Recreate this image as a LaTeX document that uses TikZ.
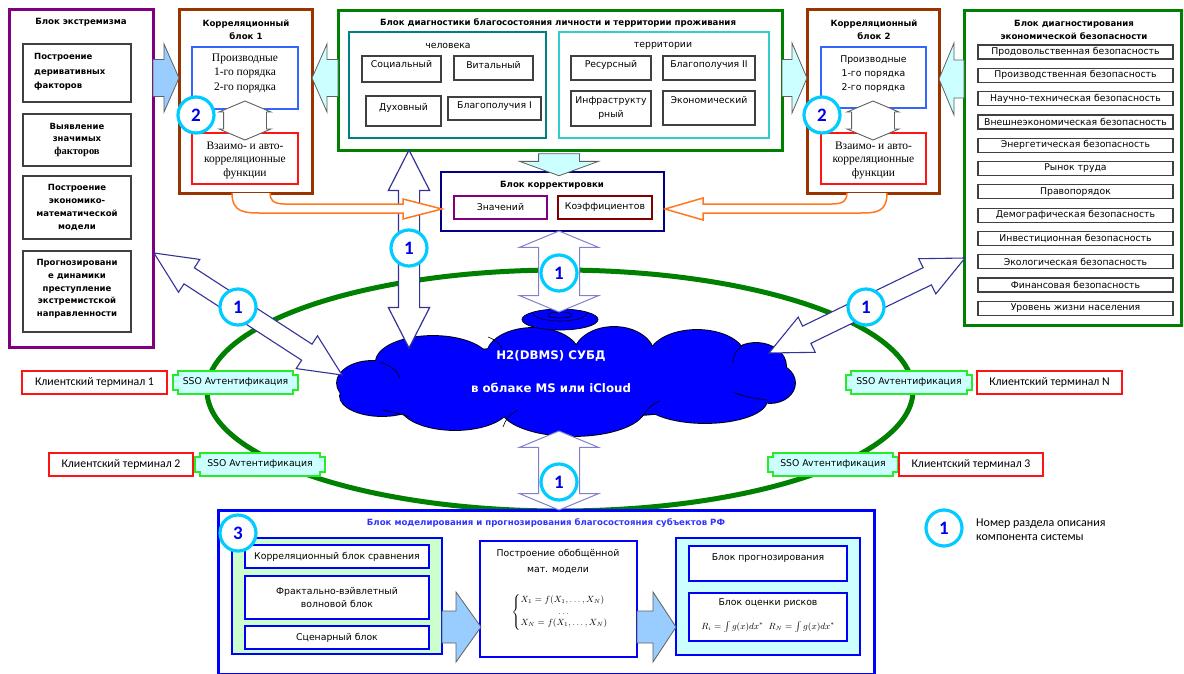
\documentclass[tikz,border=0pt]{standalone}
\usepackage{fontspec}
\setmainfont{DejaVu Sans}
\newfontfamily\serfam{Liberation Serif}
\newfontfamily\calfam{Carlito}
\usetikzlibrary{calc,shapes.arrows,shapes.geometric}

\definecolor{cPurple}{RGB}{128,0,128}
\definecolor{cBrown}{RGB}{153,51,0}
\definecolor{cBlueBox}{RGB}{51,102,255}
\definecolor{cRed}{RGB}{255,20,20}
\definecolor{cGreen}{RGB}{0,128,0}
\definecolor{cTeal}{RGB}{0,128,128}
\definecolor{cAqua}{RGB}{51,204,204}
\definecolor{cNavy}{RGB}{0,0,128}
\definecolor{cMaroon}{RGB}{128,0,0}
\definecolor{cOrange}{RGB}{255,120,30}
\definecolor{cArrNavy}{RGB}{51,51,153}
\definecolor{cArrLav}{RGB}{128,128,204}
\definecolor{cSky}{RGB}{153,204,255}
\definecolor{cIce}{RGB}{204,255,255}
\definecolor{cCloud}{RGB}{0,0,255}
\definecolor{cRing}{RGB}{0,204,255}
\definecolor{cDigit}{RGB}{0,0,230}
\definecolor{cSSO}{RGB}{40,235,40}
\definecolor{cModel}{RGB}{0,0,255}
\definecolor{cModelTxt}{RGB}{51,51,255}
\definecolor{cMint}{RGB}{204,255,204}
\definecolor{cFrame}{RGB}{64,64,64}
\definecolor{cOutline}{RGB}{96,96,96}

% block arrow (single or double) stretched between two named points
\newcommand\blockarrow[3][]{%
  \path let \p1=($(#3)-(#2)$), \n1={atan2(\y1,\x1)}, \n2={veclen(\x1,\y1)} in
    node[inner xsep=0pt, outer sep=0pt, #1, rotate=\n1, minimum height=\n2] at ($(#2)!0.5!(#3)$) {};}

% short horizontal block arrow with a tall flat head: [style]{from}{to}{dir +1/-1}{shaft half}{head half}{head length}
\newcommand\flatarrow[7][]{%
  \draw[#1] ($(#2)+(0,-#5)$) -- ($(#3)+(-#4*#7,-#5)$) -- ($(#3)+(-#4*#7,-#6)$) -- (#3)
    -- ($(#3)+(-#4*#7,#6)$) -- ($(#3)+(-#4*#7,#5)$) -- ($(#2)+(0,#5)$) -- cycle;}

% rectangle node given by its corners: [style]{name}{x1}{y1}{x2}{y2}
\newcommand\boxnode[6][]{%
  \node[#1, inner sep=0pt, minimum width={#5-#3}, minimum height={#6-#4}] (#2) at ({(#3+#5)/2},{(#4+#6)/2}) {};}

% frame with stepped corners for the SSO plates
\newcommand\notchframe[1]{%
  \draw[cSSO, line width=1.6pt, fill=cIce]
    ($(#1.north west)+(5,0)$) -- ($(#1.north east)+(-5,0)$) -- ($(#1.north east)+(-5,4)$)
    -- ($(#1.north east)+(0,4)$) -- ($(#1.south east)+(0,-4)$) -- ($(#1.south east)+(-5,-4)$)
    -- ($(#1.south east)+(-5,0)$) -- ($(#1.south west)+(5,0)$) -- ($(#1.south west)+(5,-4)$)
    -- ($(#1.south west)+(0,-4)$) -- ($(#1.north west)+(0,4)$) -- ($(#1.north west)+(5,4)$) -- cycle;}

% puffs of the database cloud: centre x, centre y, x radius, y radius
\newcommand\cloudpuffs{(372,383)/35/22, (433,362)/57/26, (533,355)/46/27, (614,355)/40/28,
  (697,357)/48/27, (756,366)/30/23, (770,383)/25/20, (705,400)/62/23, (573,408)/72/28,
  (455,405)/55/25, (382,396)/42/20, (566,382)/190/36}

\begin{document}
\begin{tikzpicture}[x=1pt,y=-1pt,
  tx/.style={font=\fontsize{9.3}{12}\selectfont, inner sep=0pt, align=center},
  tbold/.style={font=\bfseries\fontsize{8.6}{13.5}\selectfont, inner sep=0pt, align=center},
  tser/.style={font=\serfam\fontsize{11.5}{14.5}\selectfont, inner sep=0pt, align=center},
  tcal/.style={font=\calfam\fontsize{11.8}{13}\selectfont, inner sep=0pt, align=center},
  subbox/.style={draw=cFrame, line width=1.2pt},
  badge/.style={circle, draw=cRing, line width=3.2pt, fill=white, minimum size=36pt,
    inner sep=0pt, text=cDigit, font=\calfam\bfseries\fontsize{19}{19}\selectfont},
  termbox/.style={draw=cRed, line width=1.5pt, fill=white},
  itembox/.style={draw=cFrame, line width=1.2pt, minimum width=195pt, minimum height=14pt,
    inner sep=0pt, font=\fontsize{9.3}{11}\selectfont},
  skyfill/.style={draw=cOutline, line width=0.8pt, fill=cSky, line join=miter},
  icefill/.style={draw=cOutline, line width=0.8pt, fill=cIce, line join=miter},
  icearrow/.style={single arrow, draw=cOutline, line width=0.8pt, fill=cIce},
  navydbl/.style={double arrow, draw=cArrNavy, line width=1.2pt, fill=white,
    inner ysep=10pt, double arrow head extend=10pt, double arrow tip angle=54},
  diagdbl/.style={double arrow, draw=cArrNavy, line width=1.1pt, fill=white,
    inner ysep=9pt, double arrow head extend=10pt, double arrow tip angle=50},
  lavdbl/.style={double arrow, draw=cArrLav, line width=1pt, fill=white,
    inner ysep=20pt, double arrow head extend=19pt, double arrow tip angle=135},
  smalldbl/.style={double arrow, draw=cOutline, line width=0.9pt, fill=white,
    inner ysep=21pt, double arrow head extend=4.5pt, double arrow tip angle=134},
  orangearrow/.style={draw=cOrange, line width=1.5pt, fill=white},
]
\useasboundingbox (0,0) rectangle (1184,673);
\fill[white] (0,0) rectangle (1184,673);

% ---------- ring of client access ----------
\draw[cGreen, line width=5pt] (560,390.5) ellipse [x radius=353pt, y radius=120.5pt];

% ---------- cloud database ----------
\foreach \c/\rx/\ry in \cloudpuffs
  \draw[black, line width=1.8pt] \c ellipse [x radius=\rx pt, y radius=\ry pt];
\foreach \c/\rx/\ry in \cloudpuffs
  \fill[cCloud] \c ellipse [x radius=\rx pt, y radius=\ry pt];
\draw[black, line width=0.6pt] (380,362) .. controls (392,366) and (398,372) .. (400,378);
\draw[black, line width=0.6pt] (488,337) .. controls (496,340) and (500,344) .. (502,349);
\draw[black, line width=0.6pt] (743,345) .. controls (736,350) and (733,356) .. (733,362);
\draw[black, line width=0.6pt] (767,400) .. controls (752,398) and (742,396) .. (733,392);
\draw[black, line width=0.6pt] (503,427) .. controls (505,420) and (510,414) .. (518,410);
\draw[black, line width=0.6pt] (642,417) .. controls (646,410) and (652,404) .. (660,401);
\draw[black, line width=0.6pt] (410,417) .. controls (400,414) and (390,411) .. (382,410);
\node[draw=black, fill=cCloud, line width=0.7pt, ellipse, inner sep=0pt, minimum width=76pt, minimum height=21pt] (dbtop) at (560,319.5) {};
\draw[black, line width=0.6pt] (533,313) arc[start angle=180, end angle=360, x radius=27pt, y radius=8pt];
\draw[black, line width=0.6pt] (560,315) ellipse [x radius=12pt, y radius=3pt];
\coordinate (db) at (566,381);
\node[font=\bfseries\fontsize{11.8}{14}\selectfont, text=white, inner sep=0pt] (dbt1) at (551,356) {H2(DBMS) СУБД};
\node[font=\bfseries\fontsize{11.8}{14}\selectfont, text=white, inner sep=0pt] (dbt2) at (551,388) {в облаке MS или iCloud};

% ---------- extremism block ----------
\boxnode[draw=cPurple, line width=3pt]{extr}{9}{9}{153}{347}
\node[tbold] (extrt) at (81,22) {Блок экстремизма};
\boxnode[subbox]{ex1}{23}{44}{131}{102}
\boxnode[subbox]{ex2}{23}{114}{131}{166}
\boxnode[subbox]{ex3}{23}{176}{131}{239}
\boxnode[subbox]{ex4}{23}{251}{131}{332}
\node[tbold, anchor=west, align=left, font=\bfseries\fontsize{8.5}{14.5}\selectfont] (ex1t) at (34,72) {Построение\\деривативных\\факторов};
\node[tbold, font=\bfseries\fontsize{8.5}{12.5}\selectfont] (ex2t) at (77,140) {Выявление\\значимых\\{\serfam\bfseries\fontsize{10.5}{12.5}\selectfont факторов}};
\node[tbold, font=\bfseries\fontsize{8.5}{13}\selectfont] (ex3t) at (77,207) {Построение\\экономико-\\математической\\модели};
\node[tbold, font=\bfseries\fontsize{8.5}{12.7}\selectfont] (ex4t) at (77,289) {Прогнозировани\\е динамики\\преступление\\экстремистской\\направленности};

% ---------- correlation block 1 ----------
\boxnode[draw=cBrown, line width=3pt]{cb1}{179}{9}{312}{193}
\node[tbold] (cb1t) at (246,30) {Корреляционный\\блок 1};
\boxnode[draw=cBlueBox, line width=1.6pt]{cb1d}{192}{47}{298}{109}
\node[tser] (cb1dt) at (245,73) {Производные\\1-го порядка\\2-го порядка};
\boxnode[draw=cRed, line width=1.6pt]{cb1r}{192}{133}{298}{184}
\node[tser, font=\serfam\fontsize{11.5}{13.5}\selectfont] (cb1rt) at (245,160) {Взаимо- и авто-\\корреляционные\\функции};
\coordinate (cb1a) at (245,101); \coordinate (cb1b) at (245,140);
\blockarrow[smalldbl]{cb1a}{cb1b}

% ---------- correlation block 2 ----------
\boxnode[draw=cBrown, line width=3pt]{cb2}{807}{9}{939}{193}
\node[tbold] (cb2t) at (874,30) {Корреляционный\\блок 2};
\boxnode[draw=cBlueBox, line width=1.6pt]{cb2d}{821}{47}{926}{108}
\node[tx, font=\fontsize{9.3}{14}\selectfont] (cb2dt) at (873.5,74) {Производные\\1-го порядка\\2-го порядка};
\boxnode[draw=cRed, line width=1.6pt]{cb2r}{821}{133}{926}{184}
\node[tser, font=\serfam\fontsize{11.5}{13.5}\selectfont] (cb2rt) at (873.5,160) {Взаимо- и авто-\\корреляционные\\функции};
\coordinate (cb2a) at (873,101); \coordinate (cb2b) at (873,140);
\blockarrow[smalldbl]{cb2a}{cb2b}

% ---------- wellbeing diagnostics block ----------
\boxnode[draw=cGreen, line width=3pt]{diag}{338}{10}{782}{150}
\node[tbold] (diagt) at (558,23) {Блок диагностики благосостояния личности и территории проживания};
\boxnode[draw=cTeal, line width=2pt]{chel}{349}{32}{546}{138}
\node[tx] (chelt) at (448,46) {человека};
\boxnode[draw=cAqua, line width=2pt]{terr}{559}{32}{769}{138}
\node[tx] (terrt) at (663,46) {территории};
\boxnode[subbox]{soc}{362}{56}{441}{82}
\boxnode[subbox]{vit}{454}{56}{533}{80}
\boxnode[subbox]{duh}{366}{96}{441}{126}
\boxnode[subbox]{bl1}{448}{97}{541}{120}
\boxnode[subbox]{res}{571}{56}{651}{80}
\boxnode[subbox]{bl2}{663}{56}{755}{80}
\boxnode[subbox]{inf}{571}{91}{651}{126}
\boxnode[subbox]{eco}{663}{91}{755}{125}
\node[tx] (soct) at (401.5,65) {Социальный};
\node[tx] (vitt) at (493.5,65) {Витальный};
\node[tx] (duht) at (403.5,108) {Духовный};
\node[tx] (bl1t) at (494.5,106) {Благополучия I};
\node[tx] (rest) at (611,65) {Ресурсный};
\node[tx] (bl2t) at (709,65) {Благополучия II};
\node[tx, font=\fontsize{9.3}{14}\selectfont] (inft) at (611,108) {Инфраструкту\\рный};
\node[tx] (ecot) at (709,100) {Экономический};

% ---------- correction block ----------
\boxnode[draw=cNavy, line width=2.5pt]{korr}{441}{172}{664}{231}
\node[tbold] (korrt) at (552,185) {Блок корректировки};
\boxnode[draw=cPurple, line width=2pt]{kz}{454}{196}{547}{219}
\boxnode[draw=cMaroon, line width=2pt]{kk}{558}{196}{652}{219}
\node[tx] (kzt) at (500.5,207.5) {Значений};
\node[tx] (kkt) at (605,207.5) {Коэффициентов};

% ---------- economic security block ----------
\boxnode[draw=cGreen, line width=3pt]{econ}{964}{10}{1181}{325}
\node[tbold] (econt) at (1074,30) {Блок диагностирования\\экономической безопасности};
\foreach \t [count=\i from 0] in {Продовольственная безопасность, Производственная безопасность,
  Научно-техническая безопасность, Внешнеэкономическая безопасность, Энергетическая безопасность,
  Рынок труда, Правопорядок, Демографическая безопасность, Инвестиционная безопасность,
  Экологическая безопасность, Финансовая безопасность, Уровень жизни населения}
  \node[itembox] (ec\i) at (1075.5,{52+23.3*\i}) {\t};

% ---------- top block arrows ----------
\coordinate (aL1) at (153,78);  \coordinate (aL2) at (179,78);
\coordinate (aC1) at (338,78);  \coordinate (aC2) at (312,78);
\coordinate (aD1) at (782,78);  \coordinate (aD2) at (807,78);
\coordinate (aE1) at (964,79);  \coordinate (aE2) at (939,79);
\flatarrow[skyfill]{aL1}{aL2}{1}{18.5}{34}{15}
\flatarrow[icefill]{aC1}{aC2}{-1}{18.5}{34}{15}
\flatarrow[icefill]{aD1}{aD2}{1}{18.5}{35}{15}
\flatarrow[icefill]{aE1}{aE2}{-1}{19}{36}{15}
\coordinate (aK1) at (559,150); \coordinate (aK2) at (559,172);
\blockarrow[icearrow, inner ysep=20pt, single arrow head extend=19pt, single arrow tip angle=140]{aK1}{aK2}

% ---------- database links ----------
\coordinate (v1) at (409,150);  \coordinate (v2) at (409,348);
\blockarrow[navydbl]{v1}{v2}
\coordinate (m1) at (559,231);  \coordinate (m2) at (559,312);
\blockarrow[lavdbl]{m1}{m2}
\coordinate (b1) at (559,431);  \coordinate (b2) at (559,510);
\coordinate (dl1) at (154,253); \coordinate (dl2) at (342,375);
\blockarrow[diagdbl]{dl1}{dl2}
\coordinate (dr1) at (769,353); \coordinate (dr2) at (965,258);
\blockarrow[diagdbl]{dr1}{dr2}

% ---------- orange feeds into the correction block ----------
\draw[orangearrow] (232,193) .. controls (232,213) and (245,213) .. (262,213) -- (403,213)
  -- (403,219) -- (442,209) -- (403,199) -- (403,204) -- (285,204)
  .. controls (272,204) and (270,199) .. (270,193);
\draw[orangearrow] (887,193) .. controls (887,213) and (875,213) .. (860,213) -- (703,213)
  -- (703,220) -- (665,209) -- (703,198) -- (703,204) -- (832,204)
  .. controls (845,204) and (847,199) .. (847,193);

% ---------- client terminals ----------
\boxnode[termbox]{term1}{22}{371}{167}{394}
\node[tcal] (term1t) at (term1) {Клиентский терминал 1};
\boxnode[]{sso1}{173}{371}{298}{394}
\notchframe{sso1}
\node[tx] (sso1t) at (sso1) {SSO Avтентификация};
\boxnode[termbox]{term2}{49}{453}{193}{476}
\node[tcal] (term2t) at (term2) {Клиентский терминал 2};
\boxnode[]{sso2}{195}{453}{325}{476}
\notchframe{sso2}
\node[tx] (sso2t) at (sso2) {SSO Avтентификация};
\boxnode[]{ssoN}{846}{371}{972}{394}
\notchframe{ssoN}
\node[tx] (ssoNt) at (ssoN) {SSO Avтентификация};
\boxnode[termbox]{termN}{977}{371}{1122}{394}
\node[tcal] (termNt) at (termN) {Клиентский терминал N};
\boxnode[]{sso3}{768}{453}{898}{476}
\notchframe{sso3}
\node[tx] (sso3t) at (sso3) {SSO Avтентификация};
\boxnode[termbox]{term3}{899}{453}{1043}{476}
\node[tcal] (term3t) at (term3) {Клиентский терминал 3};

% ---------- modelling block ----------
\boxnode[draw=cModel, line width=3pt, fill=white]{model}{218}{510}{874}{674}
\blockarrow[lavdbl]{b1}{b2}
\node[tbold, text=cModelTxt] (modelt) at (546,523) {Блок моделирования и прогнозирования благосостояния субъектов РФ};
\boxnode[draw=cModel, line width=2pt, fill=cMint]{mgrp}{232}{538}{442}{654}
\boxnode[draw=cModel, line width=2pt, fill=white]{mg1}{245}{545}{429}{568}
\boxnode[draw=cModel, line width=2pt, fill=white]{mg2}{245}{576}{429}{619}
\boxnode[draw=cModel, line width=2pt, fill=white]{mg3}{245}{626}{429}{649}
\node[tx] (mg1t) at (mg1) {Корреляционный блок сравнения};
\node[tx, font=\fontsize{9.3}{13.5}\selectfont] (mg2t) at (mg2) {Фрактально-вэйвлетный\\волновой блок};
\node[tx] (mg3t) at (mg3) {Сценарный блок};
\boxnode[draw=cModel, line width=2pt, fill=white]{mgen}{480}{541}{637}{657}
\node[tx, font=\fontsize{9.3}{16}\selectfont] (mgent) at (558,562) {Построение обобщённой\\мат. модели};
\node[font=\fontsize{9}{11.5}\selectfont, inner sep=0pt] (mgenf) at (560,612)
  {$\left\{\begin{array}{@{}l@{}} X_1=f(X_1,\ldots,X_N)\\ \hfil\ldots\\ X_N=f(X_1,\ldots,X_N)\end{array}\right.$};
\boxnode[draw=cModel, line width=2pt, fill=cIce]{mfor}{676}{538}{860}{655}
\boxnode[draw=cModel, line width=2pt, fill=white]{mf1}{689}{546}{847}{581}
\boxnode[draw=cModel, line width=2pt, fill=white]{mf2}{689}{593}{847}{641}
\node[tx] (mf1t) at (768,558) {Блок прогнозирования};
\node[tx] (mf2t) at (768,603) {Блок оценки рисков};
\node[font=\fontsize{9}{10}\selectfont, inner sep=0pt] (mf2f) at (768,627)
  {$R_i=\int g(x)dx^{*}\;\; R_N=\int g(x)dx^{*}$};
\coordinate (ma1) at (442,627); \coordinate (ma2) at (481,627);
\coordinate (mb1) at (637,627); \coordinate (mb2) at (676,627);
\flatarrow[skyfill]{ma1}{ma2}{1}{16}{35}{25}
\flatarrow[skyfill]{mb1}{mb2}{1}{16}{35}{23}

% ---------- section badges ----------
\node[badge] (bg1) at (196,115) {2};
\node[badge] (bg2) at (822,115) {2};
\node[badge] (bv) at (409,248) {1};
\node[badge] (bm) at (559,273) {1};
\node[badge] (bb) at (559,482) {1};
\node[badge] (bl) at (238,307) {1};
\node[badge] (br) at (866,307) {1};
\node[badge] (b3) at (238,533) {3};

% ---------- legend ----------
\node[badge] (leg) at (944,528) {1};
\node[tcal, font=\calfam\fontsize{12}{14}\selectfont, anchor=west, align=left] (legt) at (976,530) {Номер раздела описания\\компонента системы};
\end{tikzpicture}
\end{document}
